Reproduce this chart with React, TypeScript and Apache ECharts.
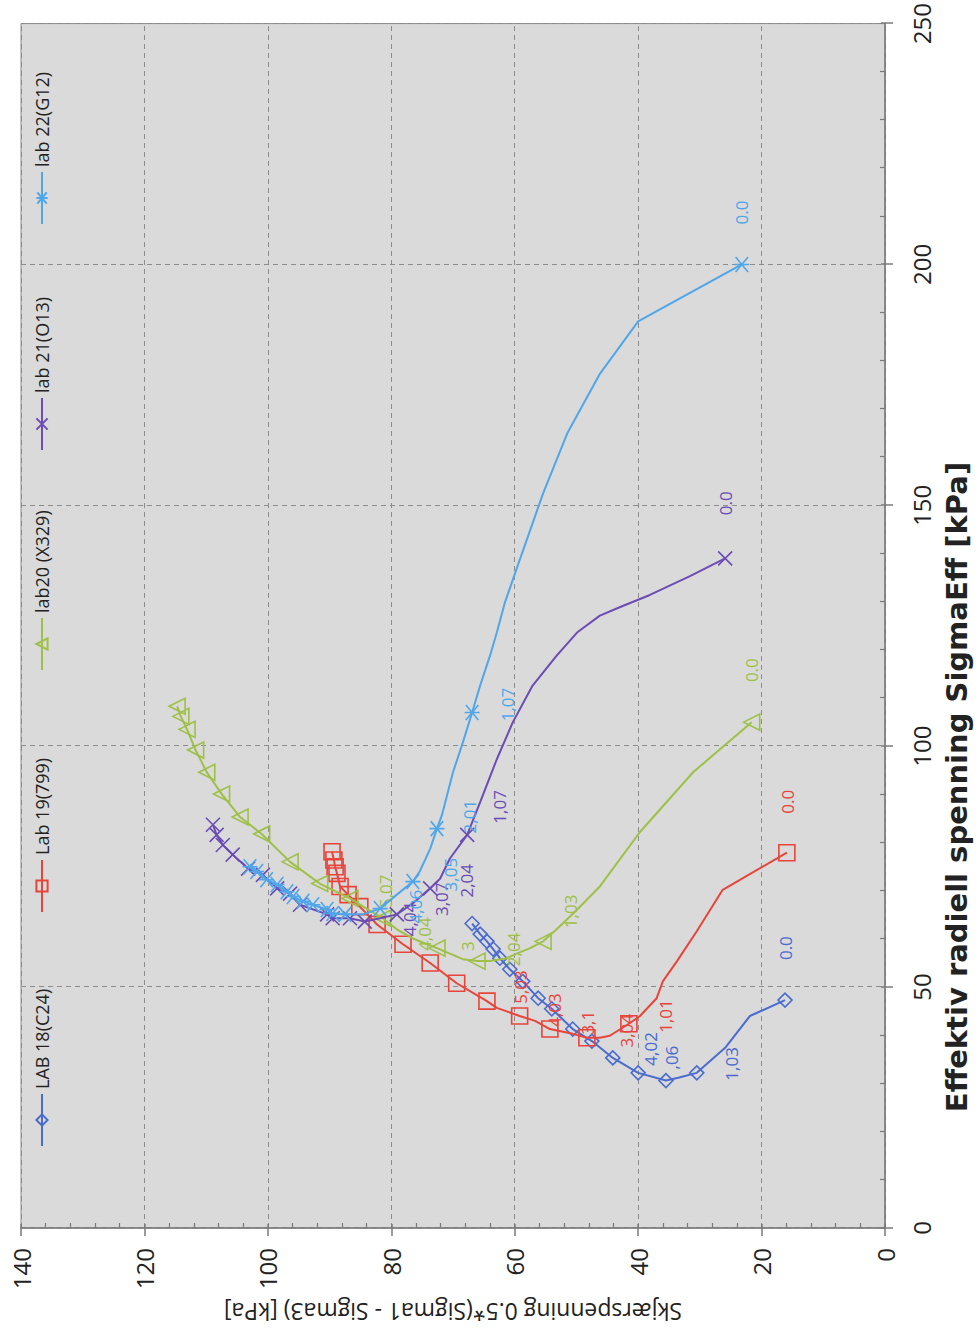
import React, { useEffect, useRef } from 'react';
import * as echarts from 'echarts';

// ---------- data (SigmaEff [kPa], shear [kPa]) ----------
const seriesNames = ['LAB 18(C24)', 'Lab 19(799)', 'lab20 (X329)', 'lab 21(O13)', 'lab 22(G12)'];
const xTitle = 'Effektiv radiell spenning SigmaEff [kPa]';
const yTitle = 'Skjærspenning 0.5*(Sigma1 - Sigma3) [kPa]';

const lab18Sigma = [47.3, 44.0, 37.4, 32.2, 31.2, 30.6, 32.2, 35.3, 38.8, 41.3, 45.5, 47.7, 51.2, 53.7, 56.0, 57.9, 59.5, 61.0, 63.2];
const lab18Shear = [16.2, 21.9, 25.9, 30.5, 33.5, 35.5, 40.0, 44.1, 47.5, 50.6, 54.0, 56.2, 58.7, 60.8, 62.4, 63.5, 64.5, 65.6, 66.9];
const lab18Marked = [1, 0, 0, 1, 0, 1, 1, 1, 1, 1, 1, 1, 1, 1, 1, 1, 1, 1, 1];
const lab18Labels = ['0.0', '', '', '1,03', '', ',06', '4,02', '', '', '', '', '', '', '', '', '', '', '', ''];

const lab19Sigma = [77.9, 70.2, 61.6, 55.4, 51.2, 47.7, 44.0, 42.4, 39.9, 39.5, 39.5, 40.3, 41.3, 43.0, 44.0, 45.7, 47.1, 50.8, 55.0, 58.9, 63.0, 66.7, 69.2, 70.9, 73.6, 75.0, 76.4, 78.1];
const lab19Shear = [15.9, 26.3, 30.5, 33.7, 36.0, 37.0, 39.7, 41.5, 44.6, 46.2, 48.3, 50.6, 54.3, 56.7, 59.2, 62.9, 64.5, 69.4, 73.7, 78.1, 82.3, 85.1, 87.0, 88.3, 88.8, 89.1, 89.3, 89.6];
const lab19Marked = [1, 0, 0, 0, 0, 0, 0, 1, 0, 0, 1, 0, 1, 0, 1, 0, 1, 1, 1, 1, 1, 1, 1, 1, 1, 1, 1, 1];
const lab19Labels = ['0.0', '', '', '', '', '', '1,01', '3,04', '', '', '3,1', '', '4,03', '', '5,03', '', '', '', '', '', '', '', '', '', '', '', '', ''];

const lab20Sigma = [105.0, 94.6, 82.2, 70.9, 65.7, 62.0, 59.5, 58.1, 57.0, 56.0, 55.4, 55.4, 55.8, 58.1, 58.9, 60.1, 62.0, 64.3, 66.5, 68.4, 71.5, 76.0, 81.8, 85.3, 90.1, 94.6, 99.2, 103.5, 106.2, 108.3];
const lab20Shear = [21.6, 31.1, 39.7, 46.2, 50.2, 53.2, 55.4, 57.5, 59.6, 61.3, 64.0, 66.1, 68.4, 72.6, 74.2, 76.5, 79.1, 81.4, 84.3, 86.7, 91.6, 96.4, 101.0, 104.5, 107.5, 109.9, 111.7, 113.1, 114.1, 114.7];
const lab20Marked = [1, 0, 0, 0, 0, 0, 1, 0, 0, 0, 0, 1, 0, 1, 0, 0, 0, 1, 0, 1, 1, 1, 1, 1, 1, 1, 1, 1, 1, 1];
const lab20Labels = ['0.0', '', '', '', '', '', '1,03', '', '2,04', '', '', '3', '', '4,04', '', '', '', '5,07', '', '', '', '', '', '', '', '', '', '', '', ''];

const lab21Sigma = [139.0, 135.3, 131.4, 128.9, 127.1, 123.6, 118.8, 112.6, 105.0, 97.3, 88.4, 81.6, 76.7, 72.5, 70.5, 67.4, 65.1, 64.3, 63.6, 64.3, 64.3, 65.1, 67.1, 69.4, 70.5, 73.3, 74.6, 77.5, 79.5, 81.6, 83.7];
const lab21Shear = [25.9, 31.6, 38.1, 42.9, 46.2, 49.9, 53.2, 57.1, 60.3, 62.9, 65.6, 67.7, 70.5, 72.1, 73.7, 76.5, 79.1, 81.8, 84.3, 86.7, 89.5, 90.4, 94.8, 96.4, 98.5, 100.8, 103.2, 105.7, 107.3, 108.3, 108.9];
const lab21Marked = [1, 0, 0, 0, 0, 0, 0, 0, 0, 0, 0, 1, 0, 0, 1, 0, 1, 0, 1, 1, 1, 1, 1, 1, 1, 1, 1, 1, 1, 1, 1];
const lab21Labels = ['0.0', '', '', '', '', '', '', '', '', '', '', '1,07', '', '2,04', '', '3,07', '4,04', '', '', '', '', '', '', '', '', '', '', '', '', '', ''];

const lab22Sigma = [200.0, 188.2, 177.3, 164.9, 152.5, 140.1, 129.8, 123.6, 118.8, 112.6, 107.0, 100.8, 94.6, 85.7, 82.9, 78.7, 74.0, 71.9, 69.2, 66.3, 65.1, 65.1, 65.3, 66.1, 67.1, 67.8, 68.8, 69.8, 71.3, 72.3, 74.0, 75.0];
const lab22Shear = [23.2, 40.0, 46.2, 51.5, 55.4, 58.8, 61.6, 62.9, 64.0, 65.6, 66.9, 68.4, 70.0, 71.8, 72.6, 73.7, 75.4, 76.5, 79.1, 81.8, 84.6, 87.5, 89.5, 90.4, 92.7, 94.3, 95.9, 96.9, 98.5, 100.2, 101.8, 102.9];
const lab22Marked = [1, 0, 0, 0, 0, 0, 0, 0, 0, 0, 1, 0, 0, 0, 1, 0, 0, 1, 0, 1, 0, 1, 1, 1, 1, 1, 1, 1, 1, 1, 1, 1];
const lab22Labels = ['0.0', '', '', '', '', '', '', '', '', '', '1,07', '', '', '', '2,01', '', '', '3,05', '4,06', '', '', '', '', '', '', '', '', '', '', '', '', ''];

const sigmaMin = 0, sigmaMax = 250, sigmaStep = 50;
const shearMin = 0, shearMax = 140, shearStep = 20;

// ---------- styling (kept apart from the data) ----------
const FONT = 'Open Sans';
const TITLE_FONT = 'DejaVu Sans';
const colors = ['#4a6bd0', '#e8443a', '#9ec046', '#6a4cb4', '#4fa6ea'];
const symbols = [
  'diamond',
  'rect',
  'triangle',
  'path://M0,0L10,10M10,0L0,10',
  'path://M0,0L10,10M10,0L0,10M5,-1L5,11',
];
const symbolSizes = [14, 16, 16, 14, 15];
const legendLeft = [186, 420, 662, 882, 1108];
// label offsets [dx, dy] in chart pixels, keyed by point index
const labelOffsets: Record<number, [number, number]>[] = [
  { 0: [52, 0], 3: [9, 35], 5: [23, 6], 6: [24, 12] },
  { 0: [51, 1], 6: [0, 26], 7: [-7, -2], 10: [15, 1], 12: [19, 5], 14: [29, 1] },
  { 0: [52, 0], 6: [30, 27], 8: [4, -4], 11: [15, -10], 13: [14, -12], 17: [27, 3] },
  { 0: [55, 0], 11: [28, 32], 13: [-2, 26], 15: [4, 29], 16: [-5, 13] },
  { 0: [52, 0], 10: [8, 35], 14: [12, 33], 17: [7, 38], 18: [-12, 19] },
];

const labs = [
  { sigma: lab18Sigma, shear: lab18Shear, marked: lab18Marked, labels: lab18Labels },
  { sigma: lab19Sigma, shear: lab19Shear, marked: lab19Marked, labels: lab19Labels },
  { sigma: lab20Sigma, shear: lab20Shear, marked: lab20Marked, labels: lab20Labels },
  { sigma: lab21Sigma, shear: lab21Shear, marked: lab21Marked, labels: lab21Labels },
  { sigma: lab22Sigma, shear: lab22Shear, marked: lab22Marked, labels: lab22Labels },
];

function buildSeries(i: number) {
  const lab = labs[i];
  const color = colors[i];
  const data = lab.sigma.map((s, k) => {
    const item: any = { value: [s, lab.shear[k]] };
    const text = lab.labels[k];
    if (!lab.marked[k]) {
      if (text) {
        item.symbolSize = 0.1;
        item.itemStyle = { borderWidth: 0 };
      } else {
        item.symbol = 'none';
      }
    }
    if (text) {
      item.label = {
        show: true,
        formatter: text,
        position: 'inside',
        offset: labelOffsets[i][k] || [0, 0],
      };
    }
    return item;
  });
  return {
    type: 'line',
    name: seriesNames[i],
    data,
    symbol: symbols[i],
    symbolSize: symbolSizes[i],
    showAllSymbol: true,
    smooth: false,
    silent: true,
    lineStyle: { color, width: 2 },
    itemStyle: { color: 'rgba(0,0,0,0)', borderColor: color, borderWidth: 1.6 },
    label: { show: false, color, fontSize: 17, fontFamily: FONT },
    emphasis: { disabled: true },
    z: 3 + i,
  };
}

export default function App() {
  const ref = useRef<HTMLDivElement>(null);
  useEffect(() => {
    if (!ref.current) return;
    const chart = echarts.init(ref.current, undefined, { renderer: 'svg' });
    const axisColor = '#7a7a7a';
    const option: any = {
      animation: false,
      backgroundColor: '#ffffff',
      textStyle: { fontFamily: FONT },
      grid: {
        left: 110,
        right: 18,
        top: 21,
        bottom: 95,
        show: true,
        backgroundColor: '#dadada',
        borderColor: '#8a8a8a',
        borderWidth: 1,
      },
      graphic: [
        {
          type: 'text',
          x: 551,
          y: 957,
          silent: true,
          style: {
            text: xTitle,
            fill: '#222',
            font: `bold 29px "${TITLE_FONT}"`,
            textAlign: 'center',
            textVerticalAlign: 'middle',
          },
        },
      ],
      legend: seriesNames.map((n, i) => ({
        data: [n],
        left: legendLeft[i],
        top: 28,
        itemWidth: 52,
        itemHeight: 14,
        itemGap: 0,
        selectedMode: false,
        textStyle: { fontSize: 18, color: '#222', fontFamily: FONT },
      })),
      xAxis: [
        {
          type: 'value',
          min: sigmaMin,
          max: sigmaMax,
          interval: sigmaStep,
          position: 'bottom',
          axisLine: { show: true, onZero: false, lineStyle: { color: axisColor, width: 1.5 } },
          axisTick: { show: true, inside: false, length: 8, lineStyle: { color: axisColor, width: 1.5 } },
          axisLabel: { fontSize: 24, color: '#222', margin: 24, fontFamily: FONT },
          splitLine: { show: true, lineStyle: { type: [5, 4], color: '#8c8c8c', width: 1 } },
        },
        {
          type: 'value',
          min: sigmaMin,
          max: sigmaMax,
          interval: sigmaStep,
          position: 'bottom',
          axisLine: { show: false },
          axisTick: { show: true, inside: true, length: 4, lineStyle: { color: axisColor, width: 1.5 } },
          axisLabel: { show: false },
          splitLine: { show: false },
          minorTick: { show: true, splitNumber: 5, length: 5, lineStyle: { color: axisColor, width: 1.2 } },
        },
      ],
      yAxis: [
        {
          type: 'value',
          min: shearMin,
          max: shearMax,
          interval: shearStep,
          position: 'left',
          name: yTitle,
          nameLocation: 'middle',
          nameGap: 70,
          nameTextStyle: { fontSize: 23, color: '#222', fontFamily: FONT },
          axisLine: { show: true, onZero: false, lineStyle: { color: axisColor, width: 1.5 } },
          axisTick: { show: true, inside: false, length: 8, lineStyle: { color: axisColor, width: 1.5 } },
          axisLabel: { fontSize: 24, color: '#222', margin: 20, fontFamily: FONT },
          splitLine: { show: true, lineStyle: { type: [5, 4], color: '#8c8c8c', width: 1 } },
        },
        {
          type: 'value',
          min: shearMin,
          max: shearMax,
          interval: shearStep,
          position: 'left',
          axisLine: { show: false },
          axisTick: { show: true, inside: true, length: 4, lineStyle: { color: axisColor, width: 1.5 } },
          axisLabel: { show: false },
          splitLine: { show: false },
          minorTick: { show: true, splitNumber: 5, length: 5, lineStyle: { color: axisColor, width: 1.2 } },
        },
      ],
      series: labs.map((_, i) => buildSeries(i)),
    };
    chart.setOption(option);
    return () => chart.dispose();
  }, []);

  return (
    <div style={{ position: 'absolute', left: 0, top: 0, width: 980, height: 1338, overflow: 'hidden', background: '#fff' }}>
      <div
        ref={ref}
        style={{
          position: 'absolute',
          left: 0,
          top: 0,
          width: 1338,
          height: 980,
          transformOrigin: '0 0',
          transform: 'translateY(1338px) rotate(-90deg)',
        }}
      />
    </div>
  );
}
